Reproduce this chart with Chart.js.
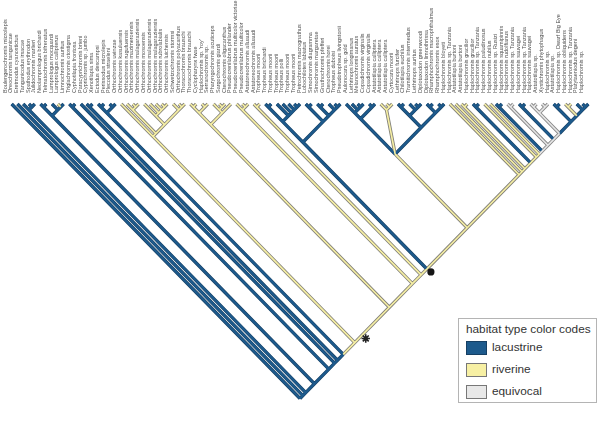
<!DOCTYPE html>
<html><head><meta charset="utf-8">
<script src="https://cdn.jsdelivr.net/npm/chart.js@4.4.1/dist/chart.umd.min.js"></script>
<style>
html,body{margin:0;padding:0;background:#fff;}
#wrap{position:relative;width:600px;height:422px;overflow:hidden;}
#legend{position:absolute;left:458px;top:318px;width:139px;height:85px;border:1px solid #b4b4b4;background:#fff;font-family:Arial,"Liberation Sans",sans-serif;color:#333;box-sizing:border-box;}
#legend .t{position:absolute;left:7px;top:3px;font-size:11.8px;white-space:nowrap;}
#legend .r{position:absolute;left:7px;height:13px;font-size:11.8px;line-height:13px;white-space:nowrap;}
#legend .sw{display:inline-block;width:19px;height:12px;border:1px solid #555;vertical-align:top;margin-right:5px;}
</style></head>
<body><div id="wrap"><canvas id="c" width="600" height="422"></canvas>
<div id="legend"><div class="t">habitat type color codes</div>
<div class="r" style="top:22px"><span class="sw" style="background:#1d5a8c;border-color:#163f63"></span>lacustrine</div>
<div class="r" style="top:44px"><span class="sw" style="background:#f7f0a4;border-color:#777"></span>riverine</div>
<div class="r" style="top:66px"><span class="sw" style="background:#e8e8e8;border-color:#777"></span>equivocal</div>
</div></div>
<script>
const taxa = [
"Boulengerochromis microlepis","Oreochromis tanganicae","Eretmodus cyanostictus","Tanganicodus irsacae","Spathodus erythrodon",
"Julidochromis marlieri","Neolamprologus brichardi","Telmatochromis bifrenatus","Lamprologus mocquardi","Lamprologus callipterus",
"Limnochromis auritus","Triglachromis otostigma","Cyphotilapia frontosa","Paracyprichromis brieni","Cyprichromis sp. jumbo",
"Xenotilapia sima","Ectodus descampsi","Perissodus microlepis","Plecodus straeleni","Orthochromis uvinzae",
"Orthochromis kasuluensis","Orthochromis rugufuensis","Orthochromis mazimeroensis","Orthochromis malagaraziensis","Orthochromis mosoensis",
"Orthochromis malagaraziensis","Orthochromis malagaraziensis","Orthochromis rubrolabialis","Orthochromis luichensis","Schwetzochromis stormsi",
"Orthochromis polyacanthus","Thoracochromis brauschi","Thoracochromis brauschi","Cyclopharynx fwae","Haplochromis sp. 'roy'",
"Serranochromis sp.","Pharyngochromis acuticeps","Sargochromis giardi","Ctenochromis oligacanthus","Pseudocrenilabrus philander",
"Pseudocrenilabrus multicolor victoriae","Pseudocrenilabrus multicolor","Astatoreochromis alluaudi","Astatoreochromis alluaudi","Tropheus moorii",
"Tropheus brichardi","Tropheus moorii","Tropheus moorii","Tropheus polli","Tropheus moorii",
"Tropheus moorii","Petrochromis macrognathus","Lobochilotes labiatus","Simochromis diagramma","Simochromis margaretae",
"Gnathochromis pfefferi","Ctenochromis horei","Tropheus duboisi","Pseudotropheus livingstonii","Aulonocara sp. gold",
"Lethrinops longimanus","Melanochromis auratus","Copadichromis virginalis","Copadichromis virginalis","Astatotilapia calliptera",
"Astatotilapia calliptera","Astatotilapia calliptera","Cyrtocara moorii","Lethrinops furcifer","Chilotilapia euchilus",
"Tramitichromis intermedius","Lethrinops auritus","Diplotaxodon greenwoodi","Diplotaxodon limnothrissa","Rhamphochromis macrophthalmus",
"Rhamphochromis esox","Haplochromis bloyeti","Haplochromis sp. Tanzania","Astatotilapia burtoni","Astatotilapia burtoni",
"Haplochromis gracilior","Haplochromis gracilior","Haplochromis sp. Tanzania","Haplochromis paludinosus","Haplochromis nubilus",
"Haplochromis sp. Rusizi","Haplochromis squamipinnis","Haplochromis rudolfianus","Haplochromis sp. Tanzania","Haplochromis sauvagei",
"Haplochromis sp. Tanzania","Haplochromis sauvagei","Astatotilapia sp.","Xystichromis phytophagus","Haplochromis sp.",
"Astatotilapia sp.","Haplochromis sp. Dwarf Big Eye","Haplochromis obliquidens","Haplochromis sp. Tanzania","Platytaeniodus degeni",
"Haplochromis sp."
];
// habitat of each terminal branch: L lacustrine, R riverine, E equivocal
const leafHabitat = (
"LLLLLLLL" + "R" + "LLLLLLLLLL" + "RRRRRRRRRRRRRRRRRRRRRRRRR" +
"LLLLLLLLLLLLLLLLLLLL" + "RRR" + "LLLLLLLLL" + "RRRR" + "LL" + "RR" + "LL" + "EE" + "LL" + "EEEE" + "LL" + "RR" + "LLL").split("");
// internal clades: [first leaf, last leaf, habitat of the branch leading to it]
const clades = [
[0,100,null],[1,100,"L"],[2,100,"L"],[2,4,"L"],[3,4,"L"],
[5,100,"L"],[5,9,"L"],[5,6,"L"],[7,9,"L"],[8,9,"L"],
[10,100,"L"],[10,11,"L"],[12,100,"L"],[13,100,"L"],[13,14,"L"],
[15,100,"L"],[15,18,"L"],[15,16,"L"],[17,18,"L"],
[19,100,"R"],[19,30,"R"],[20,30,"R"],[20,22,"R"],[21,22,"R"],[23,30,"R"],[23,27,"R"],[24,27,"R"],[25,27,"R"],[26,27,"R"],[28,30,"R"],[29,30,"R"],
[31,100,"R"],[31,38,"R"],[31,34,"R"],[31,32,"R"],[33,34,"R"],[35,38,"R"],[35,37,"R"],[36,37,"R"],
[39,100,"R"],[39,41,"R"],[40,41,"R"],[42,100,"R"],[42,43,"R"],
[44,100,"R"],[44,57,"L"],[44,50,"L"],[44,45,"L"],[46,50,"L"],[47,50,"L"],[48,50,"L"],[49,50,"L"],
[51,57,"L"],[51,52,"L"],[53,57,"L"],[53,54,"L"],[55,57,"L"],[56,57,"L"],
[58,100,"R"],[58,75,"R"],[58,63,"L"],[58,61,"L"],[59,61,"L"],[60,61,"L"],[62,63,"L"],[64,66,"R"],[65,66,"R"],
[67,75,"L"],[67,71,"L"],[67,68,"L"],[69,71,"L"],[70,71,"L"],[72,75,"L"],[72,73,"L"],[74,75,"L"],
[76,100,"R"],[77,100,"R"],[78,100,"R"],[78,79,"R"],[80,100,"R"],[80,81,"L"],[82,100,"R"],[83,100,"R"],
[84,100,"E"],[84,85,"L"],[86,100,"E"],[86,87,"E"],[88,100,"E"],[88,89,"L"],[90,100,"E"],[90,93,"E"],[90,91,"E"],[92,93,"E"],
[94,100,"L"],[94,95,"L"],[96,100,"L"],[96,97,"R"],[98,100,"L"],[99,100,"L"]
];
// annotated nodes: [first leaf, last leaf, symbol]
const markedNodes = [[19,100,"star"],[44,100,"dot"]];

const habitatStyle = {
  L:{fill:"#1d5a8c", edge:"#173f62"},
  R:{fill:"#f7f0a4", edge:"#85837a"},
  E:{fill:"#e6e6e6", edge:"#8a8a8a"}
};

// build nodes
const nodes = [];
taxa.forEach((t,i)=>nodes.push({a:i,b:i,h:leafHabitat[i]}));
clades.forEach(c=>nodes.push({a:c[0],b:c[1],h:c[2]}));
nodes.forEach(n=>{ n.x=(n.a+n.b)/2; n.y=(n.b-n.a)/2; });
function parentOf(n){
  let best=null;
  clades.forEach((c,k)=>{
    const p=nodes[taxa.length+k];
    if(p===n) return;
    if(p.a<=n.a && p.b>=n.b && !(p.a===n.a&&p.b===n.b)){
      if(!best || (p.b-p.a)<(best.b-best.a)) best=p;
    }
  });
  return best;
}
const edges={L:[],R:[],E:[]};
nodes.forEach(n=>{
  const p=parentOf(n);
  if(!p||!n.h) return;
  edges[n.h].push({x:p.x,y:p.y},{x:n.x,y:n.y},{x:NaN,y:null});
});
const datasets=[];
["R","E","L"].forEach(h=>{
  datasets.push({data:edges[h],showLine:true,borderColor:habitatStyle[h].edge,borderWidth:3.4,pointRadius:0,spanGaps:false,clip:false,order:3});
  datasets.push({data:edges[h],showLine:true,borderColor:habitatStyle[h].fill,borderWidth:h==="L"?2.3:1.6,pointRadius:0,spanGaps:false,clip:false,order:2});
});
// symbol placement offset beside its node (style, in axis units)
const markOffset = {star:{dx:1.9,dy:-0.7}, dot:{dx:0.7,dy:0.5}};
const marks=markedNodes.map(m=>{
  const a=m[0],b=m[1],o=markOffset[m[2]];
  return {x:(a+b)/2+o.dx,y:(b-a)/2+o.dy,s:m[2]};
});
datasets.push({data:marks.filter(m=>m.s==="star"),pointStyle:"star",pointRadius:4.2,borderColor:"#222",borderWidth:1.6,showLine:false,clip:false,order:1});
datasets.push({data:marks.filter(m=>m.s==="dot"),pointStyle:"circle",pointRadius:3.6,backgroundColor:"#151515",borderColor:"#151515",borderWidth:0,showLine:false,clip:false,order:1});

new Chart(document.getElementById("c"),{
  type:"scatter",
  data:{datasets},
  options:{
    responsive:false,animation:false,events:[],
    layout:{padding:0},
    plugins:{legend:{display:false},tooltip:{enabled:false}},
    scales:{
      x:{type:"linear",position:"top",min:-1.02,max:taxa.length-1+1.02,
        grid:{display:false},border:{display:false},
        afterBuildTicks:s=>{s.ticks=taxa.map((_,i)=>({value:i}));},
        afterFit:s=>{s.height=104;},
        ticks:{autoSkip:false,minRotation:90,maxRotation:90,padding:3,color:"#505050",
          font:{family:"Arial",size:5.5},
          callback:(v,i)=>taxa[i]}
      },
      y:{type:"linear",display:false,reverse:true,min:0,max:53}
    }
  }
});
</script></body></html>
